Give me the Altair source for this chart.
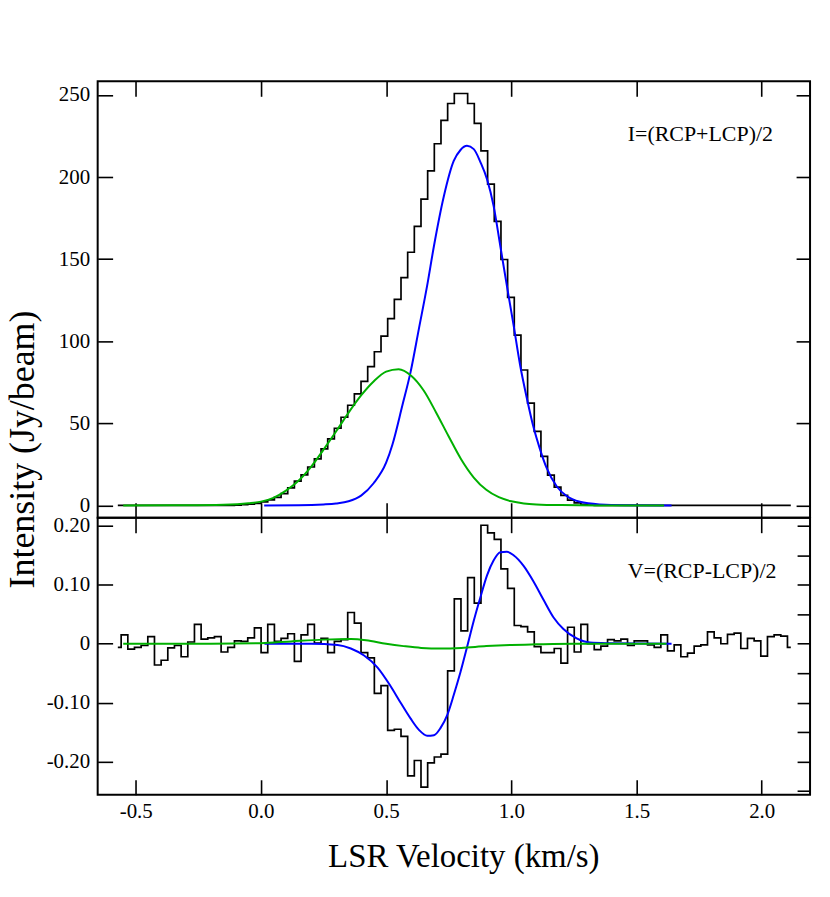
import altair as alt
import pandas as pd

# ---------------- data ----------------
# Channel grid of the spectra (centre of first channel, channel width) in km/s
VEL0 = -0.5715
DV = 0.02661

# Stokes I spectrum (Jy/beam), one value per channel
I_OBS = [0, 0, 0, 0, 0, 0, 0, 0, 0, 0,
         0, 0, 0, 0, 0, 0, 0, 0, 0.2, 0.4,
         0.7, 1.2, 2.2, 3.4, 4.9, 7.2, 10.7, 14.8, 18.6, 23.4,
         28.4, 34.5, 40.5, 47.0, 53.7, 61.0, 68.0, 75.6, 84.5, 93.6,
         103.1, 113.8, 125.5, 138.7, 154.2, 170.0, 186.6, 203.8, 220.3, 234.5,
         244.8, 250.9, 250.9, 244.8, 232.7, 215.9, 195.7, 173.0, 149.8, 126.7,
         103.7, 82.5, 62.3, 45.1, 29.9, 18.4, 11.1, 6.1, 3.2, 1.6,
         0.6, 0.2, 0, 0, 0, 0, 0, 0, 0, 0,
         0, 0, 0, 0, 0, 0, 0, 0, 0, 0,
         0, 0, 0, 0, 0, 0, 0, 0, 0, 0,
         0, 0]

# Stokes V spectrum (Jy/beam), one value per channel
V_OBS = [-0.006, 0.015, -0.009, -0.006, -0.003, 0.012, -0.036, -0.028, -0.007, -0.003,
         -0.022, 0.003, 0.033, 0.008, 0.010, 0.012, -0.014, -0.006, 0.005, 0.004,
         0.010, 0.027, -0.015, 0.033, 0.004, 0.009, 0.017, -0.030, 0.015, 0.033,
         0.001, 0.009, -0.015, 0.004, 0.007, 0.053, 0.035, -0.015, -0.024, -0.084,
         -0.071, -0.147, -0.145, -0.157, -0.224, -0.198, -0.243, -0.202, -0.192, -0.187,
         -0.046, 0.076, 0.022, 0.112, 0.069, 0.201, 0.188, 0.177, 0.127, 0.094,
         0.031, 0.029, 0.020, -0.005, -0.015, -0.015, -0.008, -0.033, 0.028, -0.014,
         0.033, 0.000, -0.010, -0.004, 0.007, 0.005, 0.008, -0.003, 0.005, 0.005,
         -0.002, -0.006, 0.015, -0.012, -0.002, -0.022, -0.016, -0.004, -0.002, 0.020,
         0.010, 0.000, 0.016, 0.018, -0.008, 0.009, 0.005, -0.021, 0.012, 0.015,
         0.013, -0.006]

# Fitted components
TOP_BLUE_VEL = [0.013, 0.15, 0.25, 0.30, 0.35, 0.40, 0.45, 0.50, 0.525, 0.565,
                0.598, 0.631, 0.664, 0.691, 0.731, 0.770, 0.797, 0.823, 0.850, 0.877,
                0.903, 0.929, 0.956, 0.982, 1.009, 1.035, 1.062, 1.088, 1.115, 1.141,
                1.181, 1.221, 1.274, 1.353, 1.45, 1.64]
TOP_BLUE = [0, 0.1, 0.6, 1.2, 2.5, 6.0, 13.5, 26.0, 37.0, 61.0,
            81.5, 107.7, 134.0, 158.0, 188.6, 209.8, 216.5, 219.0, 217.0, 209.0,
            198.7, 182.6, 158.0, 134.0, 109.8, 85.5, 65.3, 48.0, 34.0, 22.8,
            11.7, 5.7, 2.2, 0.6, 0.1, 0]

TOP_GREEN_VEL = [-0.55, -0.30, -0.15, -0.05, 0.0, 0.05, 0.10, 0.15, 0.20, 0.25,
                 0.30, 0.35, 0.40, 0.45, 0.50, 0.55, 0.60, 0.65, 0.70, 0.75,
                 0.80, 0.85, 0.90, 0.95, 1.00, 1.05, 1.10, 1.20, 1.40, 1.61]
TOP_GREEN = [0, 0.1, 0.4, 1.3, 2.3, 4.6, 9.0, 15.0, 23.5, 34.0,
             45.0, 56.5, 67.0, 75.5, 81.5, 83.0, 79.0, 70.0, 56.5, 42.0,
             28.0, 17.0, 9.5, 5.0, 2.5, 1.2, 0.6, 0.2, 0, 0]

BOT_BLUE_VEL = [0.014, 0.20, 0.306, 0.359, 0.412, 0.465, 0.518, 0.558, 0.598, 0.631,
                0.664, 0.691, 0.717, 0.744, 0.770, 0.797, 0.823, 0.850, 0.876, 0.903,
                0.929, 0.956, 0.982, 1.009, 1.049, 1.088, 1.128, 1.168, 1.208, 1.261,
                1.314, 1.38, 1.64]
BOT_BLUE = [0, 0, -0.002, -0.008, -0.020, -0.040, -0.072, -0.100, -0.127, -0.146,
            -0.156, -0.155, -0.143, -0.121, -0.087, -0.048, -0.006, 0.039, 0.078, 0.116,
            0.141, 0.155, 0.156, 0.150, 0.132, 0.106, 0.075, 0.045, 0.025, 0.009,
            0.002, 0.001, 0]

BOT_GREEN_VEL = [-0.55, -0.20, 0.0, 0.12, 0.25, 0.36, 0.42, 0.50, 0.57, 0.64,
                 0.72, 0.80, 0.90, 1.00, 1.10, 1.25, 1.62]
BOT_GREEN = [0, 0, 0.001, 0.004, 0.007, 0.008, 0.006, 0.000, -0.004, -0.007,
             -0.008, -0.007, -0.004, -0.002, -0.001, 0, 0]

LABEL_TOP = "I=(RCP+LCP)/2"
LABEL_BOT = "V=(RCP-LCP)/2"
X_TICKS = [-0.5, 0.0, 0.5, 1.0, 1.5, 2.0]
I_TICKS = [0, 50, 100, 150, 200, 250]
V_TICKS = [-0.2, -0.1, 0.0, 0.1, 0.2]
V_MINOR_TICKS = [-0.25, -0.2, -0.15, -0.1, -0.05, 0.0, 0.05, 0.1, 0.15, 0.2]

# ---------------- tables ----------------
vel = [round(VEL0 + i * DV, 5) for i in range(len(I_OBS))]
obs_i = pd.DataFrame({"v": vel, "y": I_OBS})
obs_v = pd.DataFrame({"v": vel, "y": V_OBS})
top_blue = pd.DataFrame({"v": TOP_BLUE_VEL, "y": TOP_BLUE})
top_green = pd.DataFrame({"v": TOP_GREEN_VEL, "y": TOP_GREEN})
bot_blue = pd.DataFrame({"v": BOT_BLUE_VEL, "y": BOT_BLUE})
bot_green = pd.DataFrame({"v": BOT_GREEN_VEL, "y": BOT_GREEN})
lab_top = pd.DataFrame({"v": [1.465], "y": [226.0], "t": [LABEL_TOP]})
lab_bot = pd.DataFrame({"v": [1.465], "y": [0.1235], "t": [LABEL_BOT]})

FONT = "Liberation Serif"
BLUE = "#0000ff"
GREEN = "#00b000"
W = 715
H_TOP = 438
H_BOT = 278
TICK = 15
LABEL_SIZE = 21

xscale = alt.Scale(domain=[-0.652, 2.193], nice=False, zero=False)
iscale = alt.Scale(domain=[-7.5, 258.3], nice=False, zero=False)
vscale = alt.Scale(domain=[-0.256, 0.2137], nice=False, zero=False)

x_label_expr = "datum.value < 0 ? '-' + format(-datum.value, '.1f') : format(datum.value, '.1f')"
v_label_expr = ("datum.value == 0 ? '0' : (datum.value < 0 ? '-' + format(-datum.value, '.2f')"
                " : format(datum.value, '.2f'))")


def tick_axis(orient, values, size=TICK):
    return alt.Axis(orient=orient, values=values, labels=False, domain=False,
                    tickSize=size, offset=-size, tickColor="black", tickWidth=1.6,
                    grid=False, title=None)


# ---------------- top panel ----------------
t_hist = alt.Chart(obs_i).mark_line(interpolate="step", color="black", strokeWidth=1.7).encode(
    x=alt.X("v:Q", scale=xscale, axis=tick_axis("bottom", X_TICKS)),
    y=alt.Y("y:Q", scale=iscale,
            axis=alt.Axis(orient="left", values=I_TICKS, format="d", domain=False,
                          tickSize=TICK, offset=-TICK, tickColor="black", tickWidth=1.6,
                          labelPadding=8, labelFont=FONT, labelFontSize=LABEL_SIZE,
                          labelColor="black", grid=False,
                          title="Intensity (Jy/beam)", titleFont=FONT,
                          titleFontSize=36, titleFontWeight="normal", titleColor="black",
                          titleAngle=270, titleAlign="center", titleBaseline="alphabetic",
                          titleX=-79, titleY=369)),
)
t_blue = alt.Chart(top_blue).mark_line(interpolate="monotone", color=BLUE, strokeWidth=2).encode(
    x=alt.X("v:Q", scale=xscale, axis=tick_axis("top", X_TICKS)),
    y=alt.Y("y:Q", scale=iscale, axis=tick_axis("right", I_TICKS, size=14)),
)
t_green = alt.Chart(top_green).mark_line(interpolate="monotone", color=GREEN, strokeWidth=2).encode(
    x=alt.X("v:Q", scale=xscale, axis=None),
    y=alt.Y("y:Q", scale=iscale, axis=None),
)
t_text = alt.Chart(lab_top).mark_text(font=FONT, fontSize=22, align="left", baseline="middle",
                                      color="black").encode(
    x=alt.X("v:Q", scale=xscale, axis=None),
    y=alt.Y("y:Q", scale=iscale, axis=None),
    text="t:N",
)
top = alt.layer(t_hist, t_blue, t_green, t_text).resolve_axis(
    x="independent", y="independent").properties(width=W, height=H_TOP)

# ---------------- bottom panel ----------------
b_hist = alt.Chart(obs_v).mark_line(interpolate="step", color="black", strokeWidth=1.7).encode(
    x=alt.X("v:Q", scale=xscale,
            axis=alt.Axis(orient="bottom", values=X_TICKS, labelExpr=x_label_expr, domain=False,
                          tickSize=TICK, offset=-TICK, tickColor="black", tickWidth=1.6,
                          labelPadding=6, labelFont=FONT, labelFontSize=LABEL_SIZE,
                          labelColor="black", grid=False,
                          title="LSR Velocity (km/s)", titleFont=FONT,
                          titleFontSize=33, titleFontWeight="normal", titleColor="black",
                          titlePadding=19, titleX=367, titleAlign="center")),
    y=alt.Y("y:Q", scale=vscale,
            axis=alt.Axis(orient="left", values=V_TICKS, labelExpr=v_label_expr, domain=False,
                          tickSize=TICK, offset=-TICK, tickColor="black", tickWidth=1.6,
                          labelPadding=8, labelFont=FONT, labelFontSize=LABEL_SIZE,
                          labelColor="black", grid=False, title=None)),
)
b_blue = alt.Chart(bot_blue).mark_line(interpolate="monotone", color=BLUE, strokeWidth=2).encode(
    x=alt.X("v:Q", scale=xscale, axis=tick_axis("top", X_TICKS)),
    y=alt.Y("y:Q", scale=vscale, axis=tick_axis("right", V_MINOR_TICKS, size=13)),
)
b_green = alt.Chart(bot_green).mark_line(interpolate="monotone", color=GREEN, strokeWidth=2).encode(
    x=alt.X("v:Q", scale=xscale, axis=None),
    y=alt.Y("y:Q", scale=vscale, axis=None),
)
b_text = alt.Chart(lab_bot).mark_text(font=FONT, fontSize=22, align="left", baseline="middle",
                                      color="black").encode(
    x=alt.X("v:Q", scale=xscale, axis=None),
    y=alt.Y("y:Q", scale=vscale, axis=None),
    text="t:N",
)
bottom = alt.layer(b_hist, b_blue, b_green, b_text).resolve_axis(
    x="independent", y="independent").properties(width=W, height=H_BOT)

chart = alt.VConcatChart(vconcat=[top, bottom], spacing=0, bounds="flush").resolve_scale(
    x="independent", y="independent"
).properties(
    padding={"left": -4, "top": 70, "right": 10, "bottom": 10},
    background="white",
).configure(
    font=FONT
).configure_axis(
    labelFont=FONT, titleFont=FONT
).configure_view(
    stroke="black", strokeWidth=2
)

chart.save("out.html", embed_options={"renderer": "svg", "actions": False})
